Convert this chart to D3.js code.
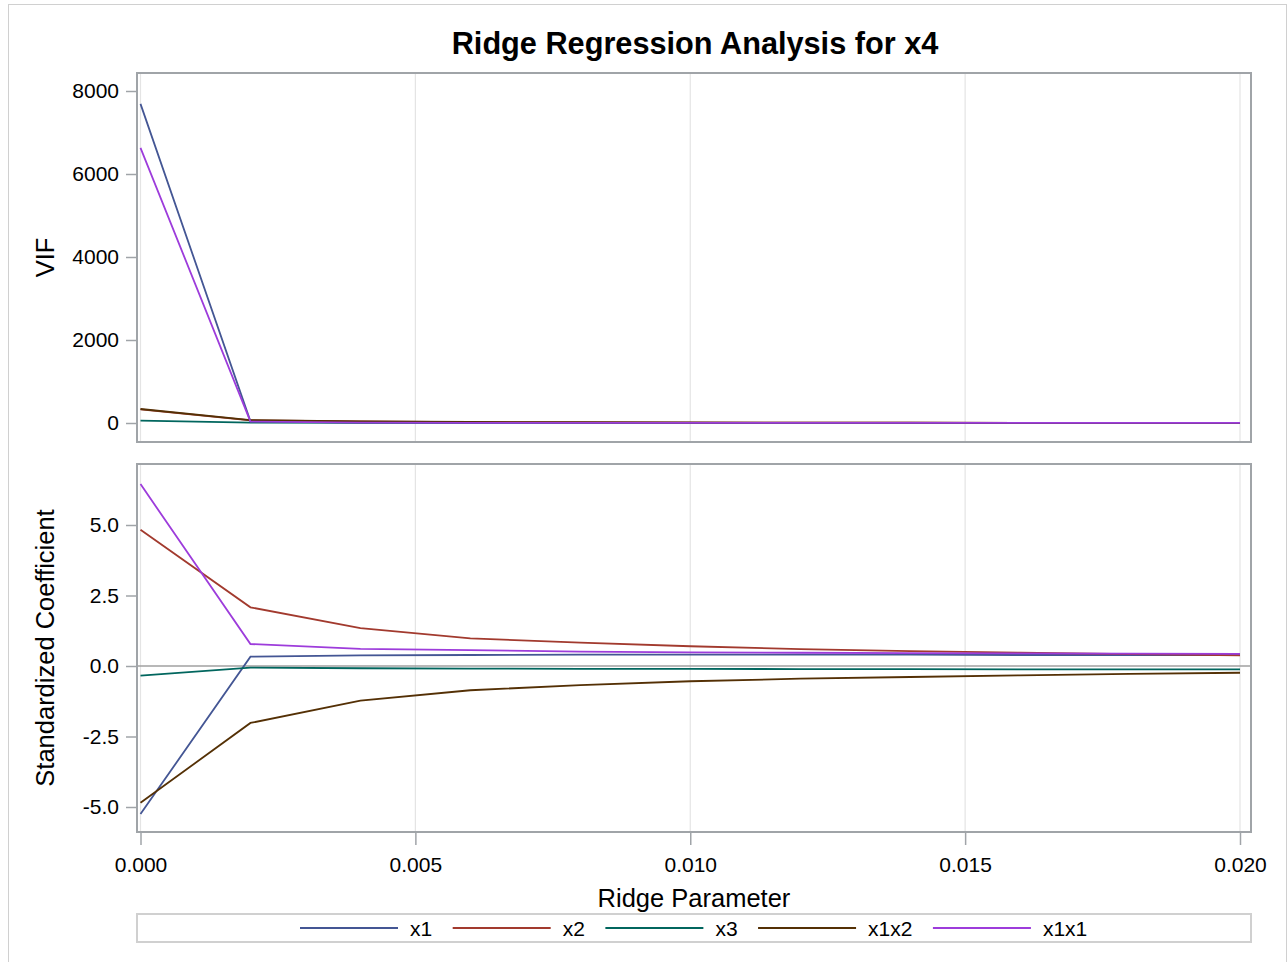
<!DOCTYPE html>
<html><head><meta charset="utf-8">
<script src="https://cdn.jsdelivr.net/npm/d3@7"></script>
<style>
html,body{margin:0;padding:0;background:#fff;}
text{font-family:"Liberation Sans",Arial,sans-serif;}
</style></head>
<body>
<svg id="c" width="1288" height="962"></svg>
<script>
const ridgeK = [0, 0.002, 0.004, 0.006, 0.008, 0.010, 0.012, 0.014, 0.016, 0.018, 0.020];
const seriesNames = ["x1", "x2", "x3", "x1x2", "x1x1"];
const vifX1   = [7690, 40, 12, 6, 4, 3, 2, 2, 1.5, 1.2, 1];
const vifX2   = [330, 65, 36, 22, 15, 11, 8, 6, 5, 4, 3];
const vifX3   = [55, 10, 5, 3, 2, 2, 1, 1, 1, 1, 1];
const vifX1x2 = [337, 70, 40, 25, 18, 12, 9, 7, 5, 4, 3];
const vifX1x1 = [6630, 35, 10, 5, 3, 2, 2, 1.5, 1, 1, 1];
const coefX1   = [-5.25, 0.33, 0.38, 0.39, 0.40, 0.40, 0.40, 0.40, 0.39, 0.39, 0.39];
const coefX2   = [4.83, 2.08, 1.34, 0.98, 0.83, 0.70, 0.60, 0.53, 0.47, 0.42, 0.38];
const coefX3   = [-0.34, -0.06, -0.08, -0.09, -0.10, -0.10, -0.11, -0.11, -0.12, -0.12, -0.12];
const coefX1x2 = [-4.85, -2.02, -1.23, -0.86, -0.68, -0.54, -0.45, -0.39, -0.33, -0.28, -0.24];
const coefX1x1 = [6.45, 0.78, 0.61, 0.56, 0.51, 0.48, 0.47, 0.46, 0.45, 0.44, 0.43];
const xTicks = [0, 0.005, 0.010, 0.015, 0.020];
const vifTicks = [0, 2000, 4000, 6000, 8000];
const coefTicks = [-5.0, -2.5, 0.0, 2.5, 5.0];
const colors = ["#445694", "#A23A2E", "#01665E", "#543005", "#9D3CDB"];

const vifData = [vifX1, vifX2, vifX3, vifX1x2, vifX1x1];
const coefData = [coefX1, coefX2, coefX3, coefX1x2, coefX1x1];

const svg = d3.select("#c");
const L = 137, R = 1251;
const top1 = 73, bot1 = 442, top2 = 464, bot2 = 832;

// outer border
svg.append("rect").attr("x", 8.5).attr("y", 4.5).attr("width", 1278).attr("height", 970)
  .attr("fill", "none").attr("stroke", "#d0d0d0").attr("stroke-width", 1);

const x = d3.scaleLinear().domain([0, 0.02]).range([140.5, 1240]);
const yV = d3.scaleLinear().domain([0, 8000]).range([423, 91]);
const yC = d3.scaleLinear().domain([-5, 5]).range([807, 525]);

function panel(top, bot, y, data, ticks, fmt, ref) {
  const g = svg.append("g");
  g.selectAll("line.grid").data(xTicks).enter().append("line")
    .attr("x1", d => x(d)).attr("x2", d => x(d)).attr("y1", top).attr("y2", bot)
    .attr("stroke", "#e4e4e4").attr("stroke-width", 1.2);
  if (ref) {
    g.append("line").attr("x1", L).attr("x2", R).attr("y1", y(0)).attr("y2", y(0))
      .attr("stroke", "#a0a0a0").attr("stroke-width", 1.5);
  }
  const line = d3.line().x((d, i) => x(ridgeK[i])).y(d => y(d));
  data.forEach((s, i) => {
    g.append("path").attr("d", line(s)).attr("fill", "none")
      .attr("stroke", colors[i]).attr("stroke-width", 1.8);
  });
  g.append("rect").attr("x", L).attr("y", top).attr("width", R - L).attr("height", bot - top)
    .attr("fill", "none").attr("stroke", "#a0a4a8").attr("stroke-width", 2);
  const ax = d3.axisLeft(y).tickValues(ticks).tickFormat(fmt).tickSize(10).tickPadding(7);
  const ag = g.append("g").attr("transform", `translate(${L - 1},0)`).call(ax);
  ag.select(".domain").remove();
  ag.selectAll(".tick line").attr("stroke", "#a0a4a8").attr("stroke-width", 1.5);
  ag.selectAll(".tick text").attr("font-size", 21).attr("fill", "#000")
    .attr("font-family", "'Liberation Sans',Arial,sans-serif");
}

panel(top1, bot1, yV, vifData, vifTicks, d => d3.format("d")(d), false);
panel(top2, bot2, yC, coefData, coefTicks, d => d3.format(".1f")(d).replace("\u2212", "-"), true);

// x axis
const xa = d3.axisBottom(x).tickValues(xTicks).tickFormat(d3.format(".3f")).tickSize(12).tickPadding(12);
const xg = svg.append("g").attr("transform", `translate(0,${bot2 + 1})`).call(xa);
xg.select(".domain").remove();
xg.selectAll(".tick line").attr("stroke", "#a0a4a8").attr("stroke-width", 1.5);
xg.selectAll(".tick text").attr("font-size", 21).attr("fill", "#000")
  .attr("font-family", "'Liberation Sans',Arial,sans-serif");

// title and labels
svg.append("text").attr("x", (L + R) / 2 + 1).attr("y", 54).attr("text-anchor", "middle")
  .attr("font-size", 30.7).attr("font-weight", "bold").text("Ridge Regression Analysis for x4");
svg.append("text").attr("x", (L + R) / 2).attr("y", 907).attr("text-anchor", "middle")
  .attr("font-size", 25.5).text("Ridge Parameter");
svg.append("text").attr("transform", `translate(54,${(top1 + bot1) / 2}) rotate(-90)`)
  .attr("text-anchor", "middle").attr("font-size", 25.5).text("VIF");
svg.append("text").attr("transform", `translate(54,${(top2 + bot2) / 2}) rotate(-90)`)
  .attr("text-anchor", "middle").attr("font-size", 25.5).text("Standardized Coefficient");

// legend
svg.append("rect").attr("x", L).attr("y", 914).attr("width", R - L).attr("height", 28)
  .attr("fill", "none").attr("stroke", "#d0d0d0").attr("stroke-width", 2);
const lg = svg.append("g");
let cx = 300;
seriesNames.forEach((n, i) => {
  const it = lg.append("g").attr("transform", `translate(${cx},0)`);
  it.append("line").attr("x1", 0).attr("x2", 98).attr("y1", 928).attr("y2", 928)
    .attr("stroke", colors[i]).attr("stroke-width", 1.8);
  const t = it.append("text").attr("x", 110).attr("y", 935.5).attr("font-size", 21).text(n);
  const w = t.node().getComputedTextLength();
  cx += 110 + w + 20.5;
});
</script>
</body></html>
